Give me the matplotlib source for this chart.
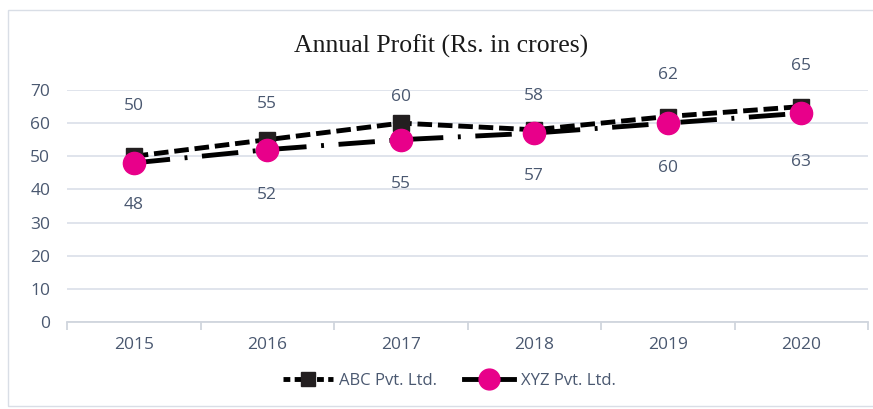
import matplotlib.pyplot as plt
from matplotlib.patches import Rectangle
from matplotlib.lines import Line2D

# chart data
years = ['2015', '2016', '2017', '2018', '2019', '2020']
abc_profit = [50, 55, 60, 58, 62, 65]
xyz_profit = [48, 52, 55, 57, 60, 63]
y_ticks = [0, 10, 20, 30, 40, 50, 60, 70]

# label offsets in points (excel put them in odd places)
abc_label_off = [36, 26, 19, 24, 30, 29]
xyz_label_off = [-30, -33, -32, -31, -32, -35]

TEXT_COL = '#4a5870'
GRID_COL = '#dde2ea'
PINK = '#e8008a'
FONT = 'Open Sans'

fig = plt.figure(figsize=(8.73, 4.09), dpi=100)
ax = fig.add_axes([67 / 873, 87 / 409, (868 - 67) / 873, (322 - 90) / 409])

# outer chart border
fig.patches.append(Rectangle((8 / 873, 3 / 409), 1.2, 396 / 409, transform=fig.transFigure,
                             fill=False, edgecolor='#d9dee6', lw=1))

x = list(range(len(years)))
ax.plot(x, abc_profit, color='black', lw=3.5, dashes=(3, 1.2), marker='s',
        markersize=12, markerfacecolor='#231f20', markeredgecolor='#231f20', zorder=3)
ax.plot(x, xyz_profit, color='black', lw=3.5, dashes=(7.5, 3, 0.6, 3), marker='o',
        markersize=16, markerfacecolor=PINK, markeredgecolor=PINK, zorder=4)

for i, v in enumerate(abc_profit):
    ax.annotate(str(v), (i, v), xytext=(0, abc_label_off[i]), textcoords='offset points',
                ha='center', va='center', fontsize=12.5, color=TEXT_COL, family=FONT)
for i, v in enumerate(xyz_profit):
    ax.annotate(str(v), (i, v), xytext=(0, xyz_label_off[i]), textcoords='offset points',
                ha='center', va='center', fontsize=12.5, color=TEXT_COL, family=FONT)

ax.set_xlim(-0.5, len(years) - 0.5)
ax.set_ylim(0, 70)
ax.set_yticks(y_ticks)
ax.set_xticks(x)
ax.set_xticklabels(years)
ax.set_xticks([i - 0.5 for i in range(len(years) + 1)], minor=True)
ax.grid(axis='y', color=GRID_COL, lw=1.3)
ax.set_axisbelow(True)
for s in ['top', 'right', 'left']:
    ax.spines[s].set_visible(False)
ax.spines['bottom'].set_color('#d0d5dd')
ax.spines['bottom'].set_linewidth(1.3)
ax.tick_params(axis='y', length=0, pad=12, labelsize=12.5, labelcolor=TEXT_COL)
ax.tick_params(axis='x', which='major', length=0, pad=11, labelsize=12.5, labelcolor=TEXT_COL)
ax.tick_params(axis='x', which='minor', length=6, color='#d0d5dd', width=1.3)
for lab in ax.get_xticklabels() + ax.get_yticklabels():
    lab.set_family(FONT)

fig.text(441 / 873, 1 - 46 / 409, 'Annual Profit (Rs. in crores)', ha='center', va='center',
         fontsize=18.5, family='Liberation Serif', color='#1a1a1a')

handles = [
    Line2D([], [], color='black', lw=3.5, dashes=(1.4, 0.9), marker='s', markersize=10,
           markerfacecolor='#231f20', markeredgecolor='#231f20'),
    Line2D([], [], color='black', lw=3.5, marker='o', markersize=15,
           markerfacecolor=PINK, markeredgecolor=PINK),
]
leg = fig.legend(handles, ['ABC Pvt. Ltd.', 'XYZ Pvt. Ltd.'], loc='center',
                 bbox_to_anchor=(449 / 873, 1 - 381 / 409), ncol=2, frameon=False,
                 handlelength=3.0, columnspacing=1.6, handletextpad=0.4,
                 prop={'family': FONT, 'size': 12})
for t in leg.get_texts():
    t.set_color(TEXT_COL)

fig.savefig('out.png', dpi=100)
